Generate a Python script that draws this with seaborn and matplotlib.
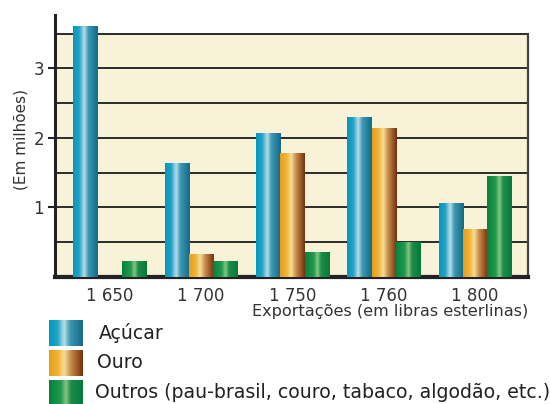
import numpy as np
import pandas as pd
import matplotlib
matplotlib.use("Agg")
import matplotlib.pyplot as plt
from matplotlib.colors import LinearSegmentedColormap
import seaborn as sns

# data (millions of pounds sterling)
anos = ["1 650", "1 700", "1 750", "1 760", "1 800"]
acucar = [3.60, 1.64, 2.07, 2.30, 1.06]
ouro = [0.0, 0.33, 1.77, 2.14, 0.68]
outros = [0.23, 0.23, 0.35, 0.49, 1.44]
produtos = ["Açúcar", "Ouro", "Outros (pau-brasil, couro, tabaco, algodão, etc.)"]
y_ticks = [1, 2, 3]
grid_levels = [0.5, 1.0, 1.5, 2.0, 2.5, 3.0, 3.5]

df = pd.DataFrame({
    "ano": anos * 3,
    "produto": [produtos[0]] * 5 + [produtos[1]] * 5 + [produtos[2]] * 5,
    "valor": acucar + ouro + outros,
})

# cylinder-like gradients for each series
cmaps = [
    LinearSegmentedColormap.from_list("azul", [(0, "#0596bd"), (0.25, "#22a3c6"), (0.45, "#b8dde8"),
                                                (0.62, "#3c98b3"), (1, "#126a85")]),
    LinearSegmentedColormap.from_list("ouro", [(0, "#e89c1c"), (0.28, "#efb63c"), (0.45, "#f6de94"),
                                                (0.65, "#c68a4a"), (1, "#74300e")]),
    LinearSegmentedColormap.from_list("verde", [(0, "#06823e"), (0.35, "#229a4e"), (0.5, "#86c584"),
                                                 (0.65, "#1c8c48"), (1, "#067a3c")]),
]
base = ["#1a9cc0", "#e3a53a", "#16904a"]
grad = np.linspace(0, 1, 256).reshape(1, -1)

sns.set_theme(style="white")
plt.rcParams["font.family"] = ["DejaVu Sans"]

fig = plt.figure(figsize=(5.5, 4.04), dpi=100)
ax = fig.add_axes([0.1, 0.3144, 0.86, 0.6486])

sns.barplot(data=df, x="ano", y="valor", hue="produto", palette=base, width=0.8,
            legend=False, ax=ax, zorder=2, saturation=1)

# overlay the gradients on the bars seaborn drew
for i, p in enumerate(ax.patches):
    h = p.get_height()
    p.set_visible(False)
    if h <= 0:
        continue
    serie = i // len(anos)
    x0 = p.get_x()
    ax.imshow(grad, extent=[x0, x0 + p.get_width(), 0, h], aspect="auto",
              cmap=cmaps[serie], zorder=3)

xmin, xmax = -0.6, 4.58
ax.set_xlim(xmin, xmax)
ax.set_ylim(0, 3.77)
ax.axhspan(0, 3.5, color="#f8f2d8", zorder=0)
for g in grid_levels:
    ax.axhline(g, color="#2b2b2b", lw=1.4, zorder=1)

ax.set_facecolor("white")
ax.spines["top"].set_visible(False)
ax.spines["right"].set_bounds(0, 3.5)
ax.spines["right"].set_color("#444444")
ax.spines["right"].set_linewidth(1.6)
ax.spines["left"].set_color("#222222")
ax.spines["left"].set_linewidth(2.2)
ax.spines["bottom"].set_color("#222222")
ax.spines["bottom"].set_linewidth(3)

ax.set_yticks(y_ticks)
ax.set_yticklabels([str(t) for t in y_ticks], fontsize=12, color="#333333")
ax.tick_params(axis="y", left=True, length=5, width=1.5, color="#222222", pad=3)
ax.tick_params(axis="x", bottom=False, labelsize=12, labelcolor="#333333", pad=1)
ax.set_xlabel("")
ax.set_ylabel("(Em milhões)", fontsize=11, color="#333333")
ax.yaxis.set_label_coords(-0.057, 0.523)

fig.text(0.96, 0.228, "Exportações (em libras esterlinas)", ha="right", va="center",
         fontsize=11.6, color="#333333")

# legend built by hand so the swatches keep the gradient
W, H = 550, 404
sw = [(49, 320, 346), (49, 350, 376), (49, 380, 404)]
lx = [99, 97, 95]
for k, (x, y0, y1) in enumerate(sw):
    sax = fig.add_axes([x / W, 1 - y1 / H, 33 / W, (y1 - y0) / H])
    sax.imshow(grad, aspect="auto", cmap=cmaps[k])
    sax.axis("off")
    fig.text(lx[k] / W, 1 - (y0 + y1) / 2 / H, produtos[k], ha="left", va="center",
             fontsize=13.6, color="#222222")

fig.savefig("out.png", dpi=100)
